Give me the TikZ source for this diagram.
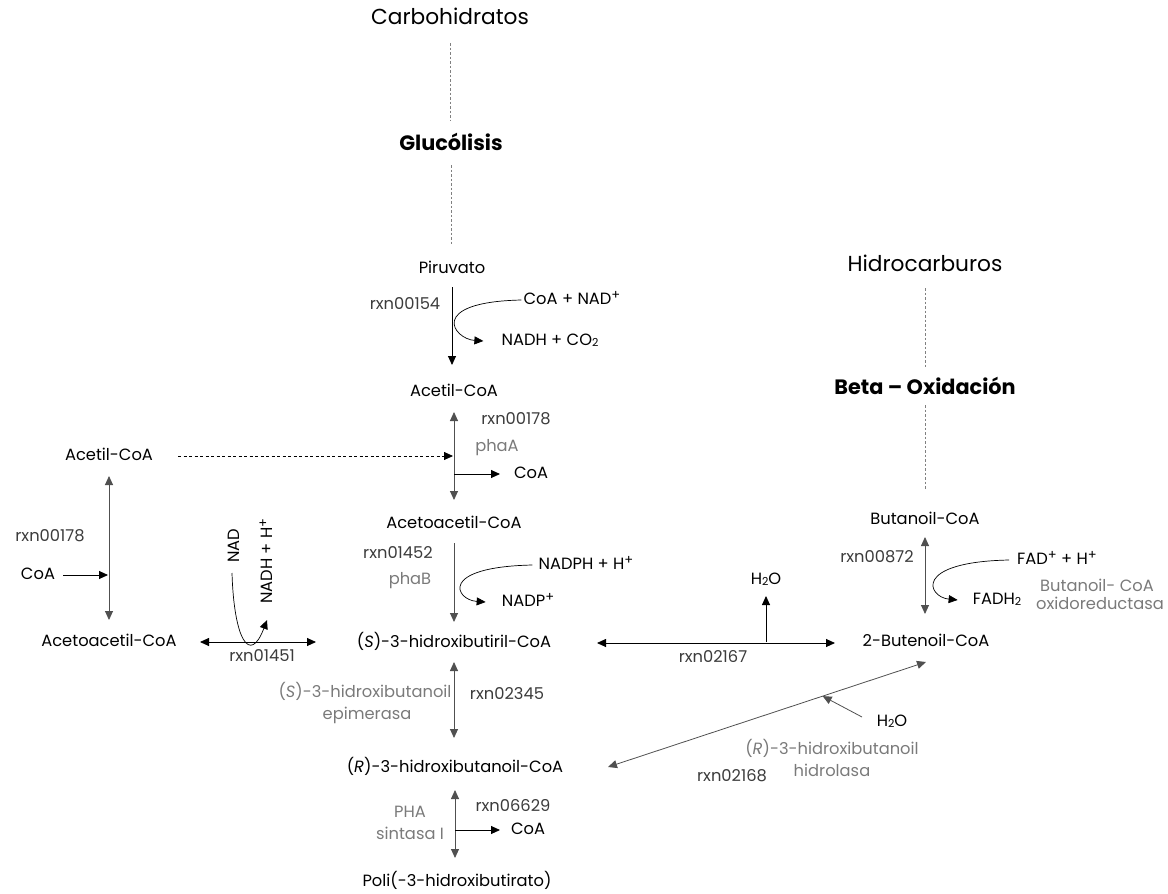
\documentclass[tikz,border=0pt]{standalone}
\usepackage{fontspec}
\setmainfont{Poppins}
\usetikzlibrary{arrows.meta,calc}
\definecolor{rxncol}{HTML}{3C3C3C}
\definecolor{enzcol}{HTML}{7A7A7A}
\definecolor{arrcol}{HTML}{505050}
\newcommand\smsub[1]{\raisebox{-1pt}{\fontsize{11}{11}\selectfont #1}}
\newcommand\sps[1]{\raisebox{5pt}{\fontsize{13}{13}\selectfont #1}}
\begin{document}
\begin{tikzpicture}[x=1pt,y=-1pt,
 txt/.style={inner sep=0pt, text height=12pt, text depth=3pt, font=\fontsize{16.3}{19}\selectfont},
 ttl/.style={inner sep=0pt, text height=16pt, text depth=4pt, font=\fontsize{21.7}{26}\selectfont},
 ttlb/.style={inner sep=0pt, text height=16pt, text depth=4pt, font=\fontsize{20.8}{26}\selectfont\bfseries},
 rx/.style={txt, text=rxncol},
 ez/.style={txt, text=enzcol},
 sarr/.style={line width=0.9pt, -{Triangle[length=9pt,width=8pt]}},
 darr/.style={line width=0.9pt, draw=arrcol, {Triangle[length=9pt,width=8pt]}-{Triangle[length=9pt,width=8pt]}},
 sarrg/.style={line width=0.9pt, draw=arrcol, -{Triangle[length=9pt,width=8pt]}},
 dsh/.style={line width=0.8pt, draw=gray, dash pattern=on 2.5pt off 2pt},
 dsharr/.style={line width=0.8pt, dash pattern=on 3pt off 2.5pt, -{Triangle[length=9pt,width=8pt]}},
]
\useasboundingbox (0,0) rectangle (1168,894);

% ---------- titles ----------
\node[ttl]  (carbo) at (450,18)  {Carbohidratos};
\node[ttlb] (gluco) at (451,144) {Glucólisis};
\node[ttl]  (hidro) at (925,265) {Hidrocarburos};
\node[ttlb] (beta)  at (925,388) {Beta -- Oxidación};

% ---------- centre column ----------
\node[txt] (piru)    at (452,269) {Piruvato};
\node[txt] (acet)    at (454,392) {Acetil-CoA};
\node[txt] (acetoac) at (454,524) {Acetoacetil-CoA};
\node[txt] (shb)     at (454,643) {(\textit{S})-3-hidroxibutiril-CoA};
\node[txt] (rhb)     at (455,768) {(\textit{R})-3-hidroxibutanoil-CoA};
\node[txt] (phb)     at (457,882) {Poli(-3-hidroxibutirato)};

\node[rx] (rxn154) at (405,305) {rxn00154};
\node[txt] (coanad) at (572,300) {CoA + NAD\sps{+}};
\node[txt] (nadhco) at (550,341) {NADH + CO\smsub{2}};

\node[rx] (rxn178) at (516,420) {rxn00178};
\node[ez] (phaA)   at (497,447) {phaA};
\node[txt] (coa1)  at (531,474) {CoA};

\node[rx] (rxn1452) at (398,554) {rxn01452};
\node[ez] (phaB)    at (410,580) {phaB};
\node[txt] (nadph)  at (586,565) {NADPH + H\sps{+}};
\node[txt] (nadp)   at (528,602) {NADP\sps{+}};

\node[ez] (epi1) at (365,693) {(\textit{S})-3-hidroxibutanoil};
\node[ez] (epi2) at (367,715) {epimerasa};
\node[rx] (rxn2345) at (507,695) {rxn02345};

\node[ez] (pha1) at (410,813) {PHA};
\node[ez] (pha2) at (410,835) {sintasa I};
\node[rx] (rxn6629) at (513,807) {rxn06629};
\node[txt] (coa2) at (528,830) {CoA};

% ---------- left column ----------
\node[txt] (acetL)    at (109,456) {Acetil-CoA};
\node[txt] (acetoacL) at (109,642) {Acetoacetil-CoA};
\node[rx]  (rxn178L)  at (50,537)  {rxn00178};
\node[txt] (coaL)     at (38,575)  {CoA};
\node[rx]  (rxn1451)  at (262,657) {rxn01451};
\node[txt, rotate=90] (nadL)  at (235,546) {NAD};
\node[txt, rotate=90] (nadhL) at (268,561) {NADH + H\sps{+}};

% ---------- right column ----------
\node[txt] (buta)  at (925,520) {Butanoil-CoA};
\node[txt] (buten) at (926,642) {2-Butenoil-CoA};
\node[rx]  (rxn872) at (877,558) {rxn00872};
\node[txt] (fad)   at (1057,560) {FAD\sps{+} + H\sps{+}};
\node[txt] (fadh)  at (997,600) {FADH\smsub{2}};
\node[ez]  (bcoa1) at (1097,587) {Butanoil- CoA};
\node[ez]  (bcoa2) at (1100,605) {oxidoreductasa};

\node[txt] (h2oA)   at (766,580) {H\smsub{2}O};
\node[rx]  (rxn2167) at (713,658) {rxn02167};
\node[txt] (h2oB)   at (892,722) {H\smsub{2}O};
\node[ez]  (hid1) at (832,750) {(\textit{R})-3-hidroxibutanoil};
\node[ez]  (hid2) at (832,772) {hidrolasa};
\node[rx]  (rxn2168) at (732,777) {rxn02168};

% ---------- dashed links ----------
\draw[dsh, shorten <=25pt, shorten >=24pt] (carbo.center) -- (carbo.center |- gluco.center);
\draw[dsh, shorten <=21pt, shorten >=24pt] (gluco.center) -- (gluco.center |- piru.center);
\draw[dsh, shorten <=23pt, shorten >=20pt] (hidro.center) -- (hidro.center |- beta.center);
\draw[dsh, shorten <=17pt, shorten >=30pt] (beta.center) -- (beta.center |- buta.center);

% ---------- centre arrows ----------
\draw[sarr, shorten <=18pt, shorten >=27pt] (piru.center) -- (piru.center |- acet.center);
\draw[darr, shorten <=20pt, shorten >=24pt] (acet.center) -- (acet.center |- acetoac.center);
\draw[sarrg, shorten <=19pt, shorten >=21pt] (acetoac.center) -- (acetoac.center |- shb.center);
\draw[darr, shorten <=19pt, shorten >=30pt] (shb.center) -- (shb.center |- rhb.center);
\draw[darr, shorten <=22pt, shorten >=24pt] (rhb.center) -- (rhb.center |- phb.center);

\draw[sarr, shorten >=31pt] (coa1.center -| acet.center) -- (coa1.center);
\draw[sarr, shorten >=28pt] (coa2.center -| rhb.center) -- (coa2.center);

\draw[line width=0.7pt, -{Triangle[length=9pt,width=8pt]}]
  ([xshift=-2pt]coanad.west) .. controls +(-95,2) and +(-30,-2) .. ([xshift=-18pt]nadhco.west);
\draw[line width=0.7pt, -{Triangle[length=9pt,width=8pt]}]
  ([xshift=-6pt]nadph.west) .. controls +(-95,2) and +(-30,-2) .. ([xshift=-16pt]nadp.west);

% ---------- left arrows ----------
\draw[darr, shorten <=20pt, shorten >=22pt] (acetL.center) -- (acetL.center |- acetoacL.center);
\draw[sarr, shorten <=25pt, shorten >=1pt] (coaL.center) -- (coaL.center -| acetL.center);
\draw[dsharr, shorten <=69pt, shorten >=1pt] (acetL.center) -- (acetL.center -| acet.center);
\draw[line width=0.9pt, {Triangle[length=9pt,width=8pt]}-{Triangle[length=9pt,width=8pt]}, shorten <=91pt, shorten >=138pt]
  (acetoacL.center) -- (acetoacL.center -| shb.center);
\draw[line width=0.7pt, -{Triangle[length=9pt,width=8pt]}]
  ([xshift=-3pt,yshift=-27pt]nadL.center) .. controls +(2,67) and +(-17,45) .. ([xshift=-1pt,yshift=-59pt]nadhL.center);

% ---------- right arrows ----------
\draw[darr, shorten <=17pt, shorten >=28pt] (buta.center) -- (buta.center |- buten.center);
\draw[line width=0.7pt, -{Triangle[length=9pt,width=8pt]}]
  ([xshift=-8pt]fad.west) .. controls +(-97,2) and +(-30,-3) .. ([xshift=-15pt]fadh.west);

\draw[line width=0.9pt, {Triangle[length=9pt,width=8pt]}-{Triangle[length=9pt,width=8pt]}, shorten <=143pt, shorten >=91pt]
  (shb.center) -- (shb.center -| buten.center);
\draw[sarr, shorten >=16pt] (h2oA.center |- buten.center) -- (h2oA.center);

\draw[line width=0.8pt, draw=arrcol, {Triangle[length=9pt,width=8pt]}-{Triangle[length=9pt,width=8pt]}]
  ([xshift=153pt,yshift=1pt]rhb.center) -- coordinate[pos=0.675] (dmid) ([yshift=-20pt]buten.center);
\draw[line width=0.8pt, draw=arrcol, -{Triangle[length=9pt,width=8pt]}]
  ([xshift=-30pt,yshift=5pt]h2oB.center) -- (dmid);

\end{tikzpicture}
\end{document}
